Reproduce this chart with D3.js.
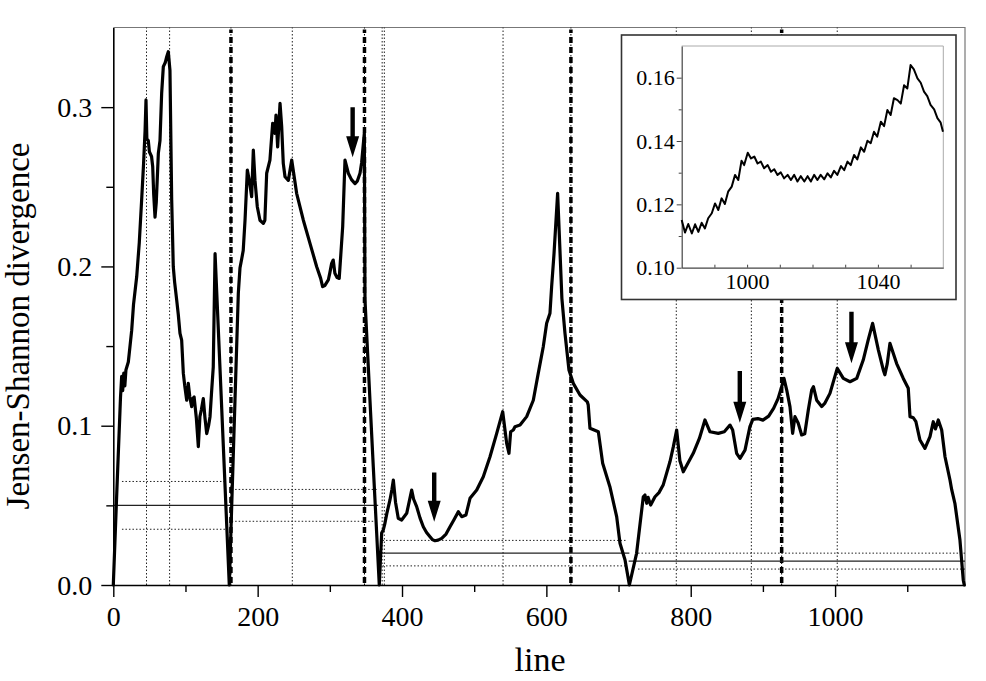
<!DOCTYPE html>
<html>
<head>
<meta charset="utf-8">
<script src="https://cdn.jsdelivr.net/npm/d3@7"></script>
<style>
  html, body { margin: 0; padding: 0; background: #fff; }
  svg { display: block; }
  text { font-family: "Liberation Serif", "Times New Roman", serif; fill: #000; }
</style>
</head>
<body>
<svg id="chart" width="986" height="681"></svg>
<script>
// ---------------- data ----------------
const lineX = [0,5,10,11.6,13,14.5,16,17.5,20.8,22,25.5,28,32.4,36,39.3,42,44,45.3,46.5,48.5,50,53,54.6,56,57.8,59.5,62.4,64.7,67,69.3,72,74,76.2,78.5,80.9,83.1,85,87.8,90,92.4,94.7,97,99,101.7,103.9,106,108.6,110,112,115,117.8,120,122,124.7,127,129.4,132,134,136,138.5,141,160.7,164,168.6,173.2,175.5,178,180,182.5,185.7,188.4,191.7,194,196.3,199.5,203.2,207.8,210,212.5,217,220.8,224,225.4,227.7,231,233.3,235.5,237.9,242.5,247.2,254,263.3,272.5,281.8,287.3,290,293,297.9,300,302.5,304.7,307,310,313,317.8,321,325.6,330,334.9,338,341.8,344,347.8,348.7,355.6,360.2,364.9,368.5,371.8,374,376,379,383.3,386,388,391,394.8,399.5,406.5,413.4,416,420.3,425,429.5,434,438.8,442,445.7,450,455,461,466.5,472,478,482.7,488.6,494.2,503.5,512.6,521.9,531.2,539.5,545,548.2,550.5,554.2,556.5,563.5,572.7,581.9,588.8,595.7,600.4,605,607.3,610.6,615.6,619,621.5,625.8,631.3,637.3,646.6,656.7,658,660.4,672,678,688,697.4,702,709,715,725,729.7,734.3,736.6,739,741,744.5,750.5,756,762,771.3,776,780.5,785,789.7,803.5,812,819.7,826.7,838.2,846.5,854.4,858.1,863.6,868.3,875.2,882,886,893,900,908,915,921,926,929.2,933,937.5,941.2,944.4,949,953.7,958,962.9,967.6,970,974.5,981.4,985.6,992.9,1003,1011.4,1020.7,1030,1039,1046,1052,1060,1066.8,1069,1072.3,1076,1085.3,1094.5,1101.4,1103.8,1108.4,1112,1117.6,1124.5,1131.5,1136,1139,1143,1147.7,1152.3,1159.2,1161.5,1166,1173,1177.6,1179];
const jsd = [0,0.06,0.118,0.131,0.122,0.133,0.125,0.135,0.140,0.145,0.160,0.176,0.1935,0.215,0.242,0.265,0.285,0.3045,0.28,0.279,0.272,0.269,0.2626,0.245,0.231,0.24,0.271,0.279,0.3087,0.3254,0.328,0.3317,0.3348,0.323,0.2417,0.1998,0.19,0.179,0.17,0.158,0.1538,0.133,0.125,0.116,0.1266,0.118,0.112,0.117,0.118,0.105,0.0868,0.1057,0.11,0.117,0.105,0.095,0.100,0.1057,0.12,0.137,0.208,0,0.049,0.116,0.183,0.199,0.205,0.210,0.229,0.2605,0.254,0.2438,0.273,0.254,0.2375,0.229,0.227,0.229,0.2585,0.2668,0.2898,0.2836,0.295,0.2751,0.3024,0.2877,0.2647,0.2563,0.254,0.2668,0.2459,0.229,0.2145,0.1998,0.1925,0.1873,0.188,0.1915,0.196,0.2019,0.204,0.1957,0.193,0.1925,0.2249,0.2668,0.2585,0.2545,0.252,0.2535,0.2585,0.265,0.2836,0.179,0.116,0.0743,0.0325,0,0.0326,0.0345,0.038,0.045,0.0534,0.06,0.0659,0.052,0.0419,0.0408,0.045,0.0596,0.054,0.0492,0.042,0.0366,0.033,0.0303,0.0285,0.0278,0.0282,0.0293,0.032,0.0366,0.041,0.046,0.0429,0.044,0.0544,0.0596,0.068,0.0805,0.0952,0.1088,0.0889,0.0827,0.0962,0.0973,0.0994,0.1004,0.1057,0.116,0.133,0.1496,0.1643,0.1706,0.1873,0.208,0.2459,0.208,0.18,0.158,0.135,0.1266,0.1193,0.115,0.113,0.0984,0.0962,0.0764,0.0617,0.0429,0.0262,0.0157,0,0.0199,0.038,0.0554,0.0565,0.0513,0.055,0.0502,0.0554,0.058,0.063,0.0775,0.087,0.0973,0.078,0.0711,0.0827,0.092,0.1036,0.0962,0.0952,0.0962,0.1004,0.0973,0.0827,0.0795,0.0847,0.0994,0.104,0.1045,0.1035,0.106,0.111,0.117,0.1245,0.1297,0.1224,0.112,0.0952,0.1057,0.1015,0.0942,0.095,0.1099,0.1224,0.1245,0.116,0.112,0.114,0.1203,0.136,0.1297,0.1276,0.1297,0.1412,0.154,0.1643,0.1475,0.135,0.132,0.139,0.1517,0.139,0.1297,0.1235,0.1057,0.105,0.1025,0.091,0.0858,0.0931,0.1025,0.098,0.1036,0.0973,0.0805,0.0659,0.06,0.0513,0.0282,0.003,0];

// inset (zoom of lines 980-1060)
const insetX = [980,981,982,983.1,984.1,985.1,986.1,987.1,988.1,989.2,990.2,991.2,992.2,993.2,994.2,995.3,996.3,997.3,998.3,999.1,1000.2,1001.2,1002.2,1003.2,1004.2,1005.2,1006.3,1007.3,1008.3,1009.3,1010.3,1011.3,1012.4,1013.4,1014.4,1015.4,1016.4,1017.5,1018.5,1019.5,1020.5,1021.5,1022.5,1023.6,1024.6,1025.6,1026.6,1027.6,1028.7,1029.7,1030.7,1031.7,1032.7,1033.7,1034.8,1035.8,1036.8,1037.8,1038.8,1039.8,1040.9,1041.9,1042.9,1043.9,1044.9,1046,1047,1048,1049,1050,1051,1052.1,1053.1,1054.1,1055.1,1056.1,1057.2,1058.2,1059.2,1059.9];
const insetY = [0.1151,0.1111,0.1138,0.1108,0.1137,0.1113,0.1142,0.1124,0.1156,0.1172,0.1203,0.1182,0.1219,0.1201,0.124,0.1256,0.1293,0.1277,0.1338,0.1324,0.1363,0.1345,0.1351,0.1329,0.1335,0.1314,0.1324,0.1303,0.1311,0.1293,0.1301,0.1282,0.1293,0.1277,0.1293,0.1272,0.1289,0.1272,0.1289,0.1272,0.1293,0.1277,0.1293,0.1279,0.1298,0.1285,0.1306,0.1293,0.1321,0.1308,0.1335,0.1324,0.1356,0.1342,0.138,0.1366,0.1401,0.1393,0.1429,0.1414,0.1461,0.1447,0.1498,0.1482,0.1535,0.1529,0.1518,0.1576,0.1566,0.164,0.1626,0.1598,0.1584,0.1556,0.1542,0.1514,0.15,0.1472,0.1458,0.1429];

// segmentation borders
const dottedBorders = [46, 78, 248, 372.5, 375.5, 540, 780, 884, 1003];
const mainBorders = [163, 348, 634, 926];

// segment means (solid) and bands (dotted)
const meanStart = [0, 371, 714];
const meanEnd = [367, 715, 1180];
const meanValue = [0.05, 0.02, 0.015];
const bandStart = [12, 164, 373, 727];
const bandEnd = [155, 365, 711, 1180];
const bandUpper = [0.065, 0.06, 0.028, 0.02];
const bandLower = [0.035, 0.04, 0.012, 0.01];

// arrows: x, top value, tip value
const arrowX = [331.6, 444.6, 868, 1022.7];
const arrowTop = [0.2999, 0.0707, 0.1343, 0.1716];
const arrowTip = [0.2685, 0.0397, 0.1019, 0.1392];

const xMajorTicks = [0, 200, 400, 600, 800, 1000];
const xMinorTicks = [100, 300, 500, 700, 900, 1100];
const yMajorTicks = [0.0, 0.1, 0.2, 0.3];
const yMinorTicks = [0.05, 0.15, 0.25];
const insetXTicks = [990, 1000, 1010, 1020, 1030, 1040, 1050];
const insetXLabels = [1000, 1040];
const insetYMajor = [0.10, 0.12, 0.14, 0.16];
const insetYMinor = [0.11, 0.13, 0.15];

// ---------------- drawing ----------------
const svg = d3.select("#chart");
const L = 113.3, R = 965, T = 27.5, B = 585;
const x = d3.scaleLinear().domain([0, 1180]).range([L, R]);
const y = d3.scaleLinear().domain([0, 0.35]).range([B, T]);

// frame top/right
svg.append("path").attr("d", `M${L},${T}H${R}V${B}`).attr("fill", "none")
  .attr("stroke", "#777").attr("stroke-width", 1.2);

// dotted borders
svg.append("g").selectAll("line").data(dottedBorders).join("line")
  .attr("x1", d => x(d)).attr("x2", d => x(d)).attr("y1", B).attr("y2", T)
  .attr("stroke", "#222").attr("stroke-width", 1).attr("stroke-dasharray", "1.5,2");

// main borders: thin dotted + thick dashes
const mb = svg.append("g");
mb.selectAll("line.thin").data(mainBorders).join("line").attr("class", "thin")
  .attr("x1", d => x(d)).attr("x2", d => x(d)).attr("y1", B).attr("y2", T)
  .attr("stroke", "#000").attr("stroke-width", 1).attr("stroke-dasharray", "1.5,2");
mb.selectAll("line.thick").data(mainBorders).join("line").attr("class", "thick")
  .attr("x1", d => x(d)).attr("x2", d => x(d)).attr("y1", B - 2).attr("y2", T + 2)
  .attr("stroke", "#000").attr("stroke-width", 3.5).attr("stroke-dasharray", "6,4");

// means & bands
const hb = svg.append("g");
meanValue.forEach((v, i) => {
  hb.append("line").attr("x1", x(meanStart[i])).attr("x2", x(meanEnd[i]))
    .attr("y1", y(v)).attr("y2", y(v)).attr("stroke", "#222").attr("stroke-width", 1.1);
});
bandUpper.forEach((v, i) => {
  [v, bandLower[i]].forEach(val => {
    hb.append("line").attr("x1", x(bandStart[i])).attr("x2", x(bandEnd[i]))
      .attr("y1", y(val)).attr("y2", y(val)).attr("stroke", "#222")
      .attr("stroke-width", 1).attr("stroke-dasharray", "1.5,2");
  });
});

// main curve
const pts = lineX.map((d, i) => [d, jsd[i]]);
svg.append("path").datum(pts)
  .attr("d", d3.line().x(d => x(d[0])).y(d => y(d[1])))
  .attr("fill", "none").attr("stroke", "#000").attr("stroke-width", 3.2)
  .attr("stroke-linejoin", "round").attr("stroke-linecap", "round");

// arrows
arrowX.forEach((ax, i) => {
  const px = x(ax), yt = y(arrowTop[i]), yp = y(arrowTip[i]);
  const headLen = 21, headW = 6.5, shaftW = 2.2;
  const yh = yp - headLen;
  const d = `M${px - shaftW},${yt}H${px + shaftW}V${yh}H${px + headW}L${px},${yp}L${px - headW},${yh}H${px - shaftW}Z`;
  svg.append("path").attr("d", d).attr("fill", "#000");
});

// axes
const ax = svg.append("g").attr("transform", `translate(0,${B})`);
ax.call(d3.axisBottom(x).tickValues(xMinorTicks).tickSize(7).tickSizeOuter(0).tickFormat(""));
ax.call(g => g.select(".domain").remove());
const ax2 = svg.append("g").attr("transform", `translate(0,${B})`);
ax2.call(d3.axisBottom(x).tickValues(xMajorTicks).tickSize(12).tickSizeOuter(0).tickFormat(d3.format("d")));
ax2.selectAll("text").attr("font-size", 28).attr("y", 21).attr("dy", "0.71em")
  .style("font-family", "Liberation Serif");

const ay = svg.append("g").attr("transform", `translate(${L},0)`);
ay.call(d3.axisLeft(y).tickValues(yMinorTicks).tickSize(7).tickSizeOuter(0).tickFormat(""));
ay.call(g => g.select(".domain").remove());
const ay2 = svg.append("g").attr("transform", `translate(${L},0)`);
ay2.call(d3.axisLeft(y).tickValues(yMajorTicks).tickSize(12).tickSizeOuter(0).tickFormat(d3.format(".1f")));
ay2.selectAll("text").attr("font-size", 28).attr("x", -21).attr("dy", "0.33em")
  .style("font-family", "Liberation Serif");

[ax, ax2, ay, ay2].forEach(g => {
  g.selectAll("line").attr("stroke", "#000").attr("stroke-width", 1.4);
  g.selectAll(".domain").attr("stroke", "#000").attr("stroke-width", 1.6);
  g.selectAll("text").attr("fill", "#000");
});

// axis titles
svg.append("text").attr("x", 540).attr("y", 671).attr("text-anchor", "middle")
  .attr("font-size", 34).text("line");
svg.append("text").attr("transform", "translate(29,326) rotate(-90)")
  .attr("text-anchor", "middle").attr("font-size", 33).text("Jensen-Shannon divergence");

// ---------------- inset ----------------
svg.append("rect").attr("x", 621.5).attr("y", 35).attr("width", 334.5).attr("height", 264.5)
  .attr("fill", "#fff").attr("stroke", "#333").attr("stroke-width", 1.6);
const iL = 681.7, iR = 943.3, iT = 46, iB = 267.7;
const ix = d3.scaleLinear().domain([980, 1060]).range([iL, iR]);
const iy = d3.scaleLinear().domain([0.10, 0.17]).range([iB, iT]);
svg.append("path").attr("d", `M${iL},${iT}H${iR}V${iB}`).attr("fill", "none")
  .attr("stroke", "#aaa").attr("stroke-width", 1);

const iax = svg.append("g").attr("transform", `translate(0,${iB})`);
iax.call(d3.axisBottom(ix).tickValues(insetXTicks).tickSize(-3).tickSizeOuter(0).tickFormat(""));
iax.selectAll("line").attr("stroke", "#444");
iax.select(".domain").attr("stroke", "#444").attr("stroke-width", 1.2);
const iaxl = svg.append("g").attr("transform", `translate(0,${iB})`);
iaxl.call(d3.axisBottom(ix).tickValues(insetXLabels).tickSize(0).tickFormat(d3.format("d")));
iaxl.select(".domain").remove();
iaxl.selectAll("text").attr("font-size", 22).attr("y", 6).attr("dy", "0.71em")
  .style("font-family", "Liberation Serif").attr("fill", "#000");

const iay = svg.append("g").attr("transform", `translate(${iL},0)`);
iay.call(d3.axisLeft(iy).tickValues(insetYMinor).tickSize(3).tickSizeOuter(0).tickFormat(""));
iay.select(".domain").remove();
iay.selectAll("line").attr("stroke", "#444");
const iay2 = svg.append("g").attr("transform", `translate(${iL},0)`);
iay2.call(d3.axisLeft(iy).tickValues(insetYMajor).tickSize(5).tickSizeOuter(0).tickFormat(d3.format(".2f")));
iay2.selectAll("line").attr("stroke", "#444");
iay2.select(".domain").attr("stroke", "#444").attr("stroke-width", 1.2);
iay2.selectAll("text").attr("font-size", 22).attr("x", -7).attr("dy", "0.33em")
  .style("font-family", "Liberation Serif").attr("fill", "#000");

const ipts = insetX.map((d, i) => [d, insetY[i]]);
svg.append("path").datum(ipts)
  .attr("d", d3.line().x(d => ix(d[0])).y(d => iy(d[1])))
  .attr("fill", "none").attr("stroke", "#000").attr("stroke-width", 2)
  .attr("stroke-linejoin", "round");
</script>
</body>
</html>
